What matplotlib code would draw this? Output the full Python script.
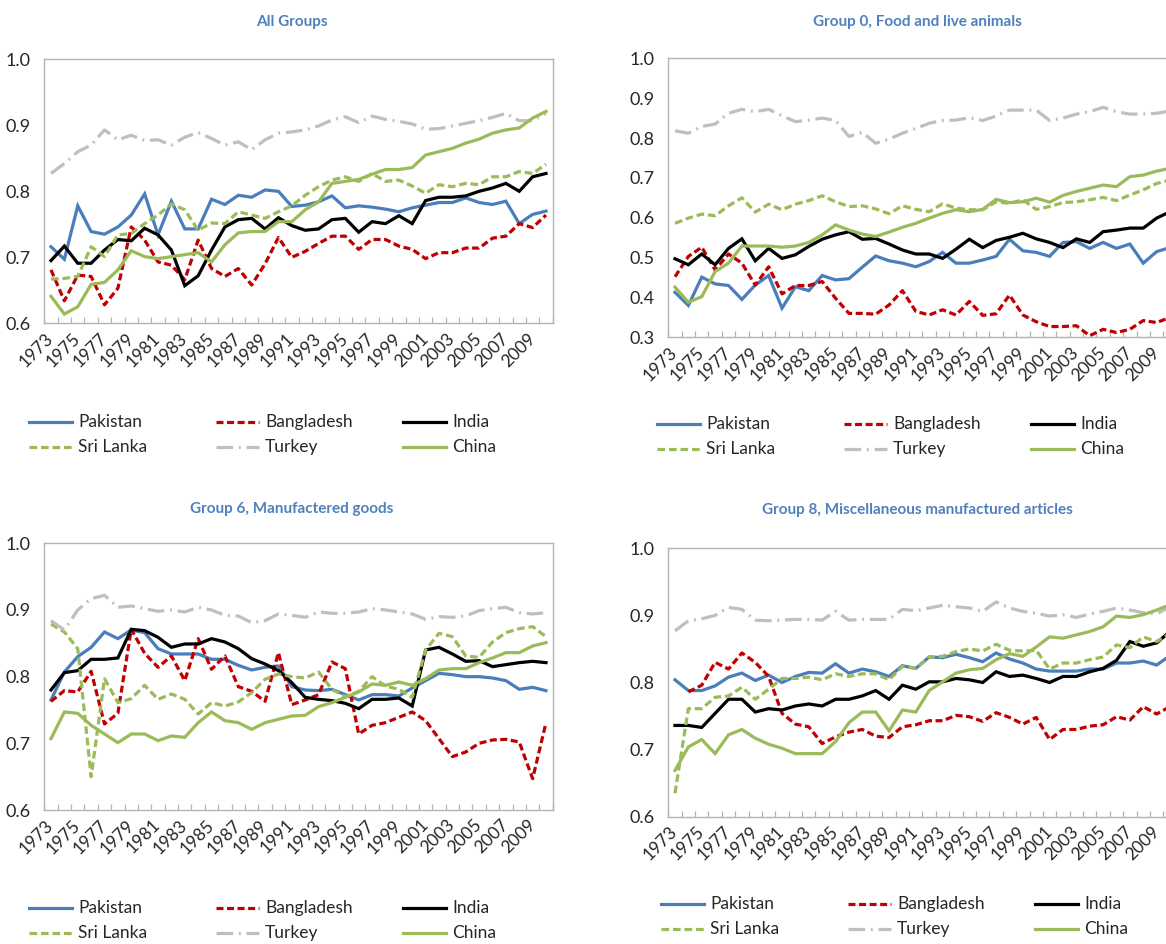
import numpy as np
import matplotlib
matplotlib.use("Agg")
import matplotlib.pyplot as plt
from matplotlib.lines import Line2D

plt.rcParams['font.family'] = ['Lato', 'DejaVu Sans']

years = list(range(1973, 2011))
countries = ['Pakistan', 'Bangladesh', 'India', 'Sri Lanka', 'Turkey', 'China']
nan = np.nan

# ---- All Groups ----
pak_all = [0.716,0.697,0.778,0.739,0.735,0.746,0.764,0.796,0.734,0.785,0.743,0.743,0.788,0.780,0.794,0.791,0.802,0.800,0.777,
           0.779,0.784,0.793,0.775,0.778,0.776,0.773,0.769,0.775,0.779,0.783,0.783,0.790,0.783,0.780,0.785,0.751,0.765,0.770]
ban_all = [0.681,0.634,0.673,0.671,0.628,0.653,0.746,0.726,0.693,0.688,0.666,0.726,0.683,0.671,0.683,0.658,0.690,0.730,0.700,
           0.709,0.721,0.732,0.732,0.712,0.727,0.727,0.717,0.712,0.698,0.707,0.707,0.714,0.714,0.729,0.732,0.751,0.745,0.764]
ind_all = [0.695,0.717,0.691,0.691,0.711,0.727,0.725,0.744,0.734,0.711,0.657,0.672,0.711,0.746,0.757,0.759,0.743,0.760,0.748,
           0.741,0.743,0.757,0.759,0.738,0.754,0.751,0.763,0.751,0.786,0.791,0.791,0.793,0.800,0.805,0.812,0.800,0.822,0.827]
sri_all = [0.667,0.668,0.671,0.716,0.701,0.734,0.736,0.751,0.764,0.781,0.772,0.741,0.752,0.751,0.769,0.764,0.759,0.769,0.778,
           0.794,0.807,0.817,0.822,0.815,0.827,0.815,0.817,0.808,0.797,0.810,0.807,0.812,0.810,0.822,0.822,0.830,0.827,0.841]
tur_all = [0.827,0.842,0.860,0.870,0.893,0.878,0.885,0.877,0.878,0.870,0.882,0.889,0.880,0.870,0.875,0.863,0.878,0.888,0.890,
           0.893,0.899,0.908,0.913,0.904,0.914,0.909,0.906,0.902,0.894,0.895,0.899,0.903,0.907,0.912,0.918,0.907,0.907,0.918]
chn_all = [0.641,0.614,0.625,0.659,0.662,0.681,0.710,0.701,0.698,0.701,0.704,0.707,0.693,0.719,0.737,0.739,0.739,0.754,0.754,
           0.772,0.784,0.812,0.815,0.818,0.826,0.833,0.833,0.836,0.855,0.860,0.865,0.873,0.879,0.888,0.893,0.896,0.911,0.921]

# ---- Group 0, Food and live animals ----
pak_food = [0.413,0.380,0.451,0.434,0.430,0.395,0.431,0.455,0.373,0.427,0.417,0.455,0.444,0.447,0.476,0.504,0.492,
            0.486,0.477,0.490,0.513,0.486,0.486,0.494,0.503,0.546,0.517,0.513,0.503,0.538,0.540,0.523,0.538,0.523,0.534,0.486,0.515,0.525]
ban_food = [0.452,0.503,0.526,0.469,0.509,0.486,0.431,0.477,0.409,0.430,0.430,0.440,0.398,0.360,0.360,0.358,0.381,
            0.417,0.365,0.356,0.369,0.356,0.390,0.355,0.359,0.406,0.356,0.339,0.327,0.327,0.329,0.304,0.320,0.312,0.320,0.342,0.337,0.350]
ind_food = [0.497,0.482,0.509,0.482,0.523,0.547,0.492,0.523,0.498,0.507,0.528,0.546,0.557,0.565,0.546,0.548,0.534,
            0.519,0.509,0.509,0.498,0.521,0.546,0.525,0.543,0.551,0.561,0.547,0.538,0.525,0.547,0.538,0.565,0.569,0.574,0.574,0.599,0.615]
sri_food = [0.586,0.599,0.609,0.605,0.630,0.650,0.614,0.634,0.620,0.634,0.643,0.655,0.640,0.628,0.630,0.622,0.610,
            0.630,0.621,0.615,0.635,0.624,0.620,0.620,0.640,0.636,0.645,0.621,0.628,0.638,0.640,0.645,0.651,0.643,0.657,0.670,0.686,0.695]
tur_food = [0.818,0.812,0.829,0.835,0.862,0.872,0.866,0.872,0.856,0.841,0.845,0.850,0.844,0.804,0.814,0.787,0.797,
            0.812,0.824,0.837,0.844,0.845,0.851,0.844,0.855,0.870,0.870,0.870,0.844,0.850,0.860,0.866,0.877,0.866,0.860,0.860,0.862,0.868]
chn_food = [0.426,0.388,0.402,0.465,0.486,0.529,0.529,0.529,0.526,0.529,0.538,0.557,0.582,0.569,0.559,0.553,0.564,
            0.576,0.586,0.599,0.611,0.620,0.615,0.621,0.646,0.638,0.640,0.649,0.639,0.656,0.666,0.674,0.682,0.678,0.703,0.707,0.717,0.724]

# ---- Group 6, Manufactered goods ----
pak_man = [0.765,0.807,0.830,0.844,0.867,0.857,0.870,0.866,0.842,0.834,0.834,0.834,0.826,0.826,0.817,0.810,0.814,0.816,0.785,
           0.780,0.779,0.781,0.773,0.765,0.773,0.773,0.771,0.783,0.794,0.805,0.803,0.800,0.800,0.798,0.794,0.781,0.784,0.779]
ban_man = [0.763,0.779,0.777,0.808,0.729,0.745,0.871,0.835,0.814,0.831,0.794,0.857,0.811,0.831,0.785,0.778,0.763,0.836,0.758,
           0.765,0.773,0.822,0.812,0.714,0.727,0.731,0.739,0.747,0.734,0.707,0.680,0.687,0.700,0.705,0.706,0.702,0.647,0.731]
ind_man = [0.780,0.806,0.809,0.826,0.826,0.828,0.871,0.869,0.859,0.844,0.849,0.849,0.857,0.852,0.842,0.827,0.819,0.809,0.791,
           0.769,0.766,0.764,0.760,0.752,0.766,0.766,0.768,0.756,0.840,0.844,0.834,0.823,0.824,0.815,0.818,0.821,0.823,0.821]
sri_man = [0.879,0.867,0.842,0.650,0.797,0.761,0.767,0.787,0.766,0.774,0.766,0.744,0.761,0.756,0.762,0.776,0.796,0.804,0.800,
           0.798,0.807,0.781,0.770,0.778,0.800,0.786,0.781,0.769,0.840,0.865,0.860,0.831,0.829,0.852,0.866,0.872,0.875,0.860]
tur_man = [0.884,0.870,0.900,0.917,0.922,0.904,0.906,0.902,0.898,0.900,0.897,0.904,0.900,0.892,0.891,0.881,0.884,0.894,0.892,
           0.889,0.897,0.895,0.895,0.897,0.902,0.900,0.897,0.894,0.886,0.890,0.889,0.891,0.899,0.902,0.904,0.896,0.894,0.896]
chn_man = [0.707,0.747,0.745,0.727,0.714,0.701,0.714,0.714,0.704,0.711,0.709,0.731,0.747,0.734,0.731,0.721,0.731,0.736,0.741,
           0.742,0.755,0.761,0.769,0.777,0.789,0.787,0.792,0.787,0.797,0.810,0.812,0.812,0.821,0.828,0.836,0.836,0.846,0.851]

# ---- Group 8, Miscellaneous manufactured articles ----
pak_misc = [0.804,0.788,0.788,0.795,0.808,0.814,0.803,0.811,0.800,0.809,0.815,0.814,0.828,0.814,0.820,0.816,0.809,
            0.825,0.821,0.838,0.837,0.842,0.837,0.831,0.844,0.835,0.829,0.820,0.817,0.817,0.817,0.820,0.820,0.829,0.829,0.832,0.826,0.840]
ban_misc = [nan,0.786,0.796,0.830,0.820,0.844,0.830,0.809,0.754,0.738,0.734,0.709,0.719,0.726,0.730,0.720,0.718,
            0.734,0.737,0.743,0.743,0.751,0.749,0.742,0.755,0.748,0.738,0.748,0.715,0.730,0.730,0.735,0.737,0.749,0.744,0.764,0.753,0.764]
ind_misc = [0.736,0.736,0.733,0.754,0.775,0.775,0.756,0.761,0.759,0.765,0.768,0.765,0.775,0.775,0.780,0.788,0.775,
            0.796,0.790,0.801,0.801,0.806,0.804,0.800,0.816,0.809,0.811,0.806,0.800,0.809,0.809,0.816,0.821,0.833,0.861,0.854,0.859,0.876]
sri_misc = [0.635,0.761,0.761,0.778,0.780,0.793,0.775,0.790,0.806,0.806,0.808,0.804,0.813,0.809,0.813,0.813,0.804,
            0.824,0.821,0.838,0.839,0.846,0.850,0.847,0.857,0.848,0.847,0.848,0.820,0.829,0.829,0.834,0.838,0.856,0.852,0.868,0.861,0.873]
tur_misc = [0.877,0.892,0.895,0.900,0.912,0.909,0.893,0.892,0.893,0.894,0.894,0.893,0.906,0.893,0.894,0.894,0.894,
            0.909,0.907,0.911,0.915,0.913,0.911,0.906,0.920,0.911,0.906,0.903,0.899,0.901,0.897,0.902,0.906,0.911,0.908,0.904,0.902,0.913]
chn_misc = [0.669,0.704,0.715,0.694,0.722,0.730,0.717,0.708,0.702,0.694,0.694,0.694,0.712,0.740,0.756,0.756,0.728,
            0.759,0.756,0.788,0.801,0.814,0.819,0.821,0.834,0.843,0.839,0.853,0.868,0.866,0.871,0.876,0.883,0.899,0.897,0.901,0.908,0.916]

titles = ['All Groups', 'Group 0, Food and live animals',
          'Group 6, Manufactered goods', 'Group 8, Miscellaneous manufactured articles']

styles = {
    'Pakistan':   dict(color='#4A7EBB', linestyle='-'),
    'Bangladesh': dict(color='#C00000', linestyle=(0, (2.2, 1.1))),
    'India':      dict(color='#000000', linestyle='-'),
    'Sri Lanka':  dict(color='#9BBB59', linestyle=(0, (2.4, 1.2))),
    'Turkey':     dict(color='#BFBFBF', linestyle=(0, (5.2, 1.8, 0.6, 1.8))),
    'China':      dict(color='#9BBB59', linestyle='-'),
}
LW = 2.3

W, H = 1166, 944
fig = plt.figure(figsize=(W / 100, H / 100), dpi=100)
fig.patch.set_facecolor('white')


def px_axes(l, t, r, b):
    return fig.add_axes([l / W, 1 - b / H, (r - l) / W, (b - t) / H])


panels = [
    dict(title=titles[0], box=(44.3, 59.3, 552.7, 323.3), ylim=(0.6, 1.0),
         data=[pak_all, ban_all, ind_all, sri_all, tur_all, chn_all], title_y=22, tx=292, leg=(29, 422)),
    dict(title=titles[1], box=(668.3, 58.3, 1176.7, 337.3), ylim=(0.3, 1.0),
         data=[pak_food, ban_food, ind_food, sri_food, tur_food, chn_food], title_y=22, tx=917, leg=(657, 424)),
    dict(title=titles[2], box=(44.3, 543.3, 552.7, 810.0), ylim=(0.6, 1.0),
         data=[pak_man, ban_man, ind_man, sri_man, tur_man, chn_man], title_y=509, tx=292, leg=(29, 908)),
    dict(title=titles[3], box=(668.3, 548.3, 1176.7, 816.7), ylim=(0.6, 1.0),
         data=[pak_misc, ban_misc, ind_misc, sri_misc, tur_misc, chn_misc], title_y=510, tx=917, leg=(661, 904)),
]

x = np.arange(len(years))
SPINE = '#B3B3B3'
TXT = '#262626'

for p in panels:
    l, t, r, b = p['box']
    ax = px_axes(l, t, r, b)
    for name, vals in zip(countries, p['data']):
        ax.plot(x, vals, lw=LW, dash_capstyle='butt', solid_joinstyle='miter', **styles[name])
    ax.set_xlim(-0.5, len(years) - 0.5)
    ax.set_ylim(*p['ylim'])
    yt = np.round(np.arange(p['ylim'][0], p['ylim'][1] + 0.001, 0.1), 1)
    ax.set_yticks(yt)
    ax.set_yticklabels([f'{v:.1f}' for v in yt])
    ax.tick_params(axis='y', length=0, pad=10, labelsize=13, labelcolor=TXT)
    ax.set_xticks(x[::2])
    ax.set_xticklabels([str(y) for y in years[::2]], rotation=45, ha='right', va='center',
                       rotation_mode='anchor')
    ax.tick_params(axis='x', which='major', length=0, pad=9, labelsize=12.5, labelcolor=TXT)
    ax.set_xticks(np.arange(-0.5, len(years), 1), minor=True)
    ax.tick_params(axis='x', which='minor', direction='in', length=4, width=0.9, color=SPINE)
    for s in ax.spines.values():
        s.set_color(SPINE)
        s.set_linewidth(1.0)
    fig.text(p['tx'] / W, 1 - p['title_y'] / H, p['title'],
             ha='center', va='center', fontsize=11, fontweight='bold', color='#4F81BD')

    # legend (Excel-style, 3 columns x 2 rows)
    lx, ly = p['leg']
    rows = [['Pakistan', 'Bangladesh', 'India'], ['Sri Lanka', 'Turkey', 'China']]
    for ri, row in enumerate(rows):
        for ci, name in enumerate(row):
            xx = lx + ci * 187
            yy = ly + ri * 25
            fig.add_artist(Line2D([xx / W, (xx + 43) / W], [1 - yy / H, 1 - yy / H],
                                  transform=fig.transFigure, lw=LW, dash_capstyle='butt',
                                  **styles[name]))
            fig.text((xx + 49) / W, 1 - yy / H, name, ha='left', va='center',
                     fontsize=12.5, color=TXT)

fig.savefig('out.png', dpi=100, facecolor='white')
